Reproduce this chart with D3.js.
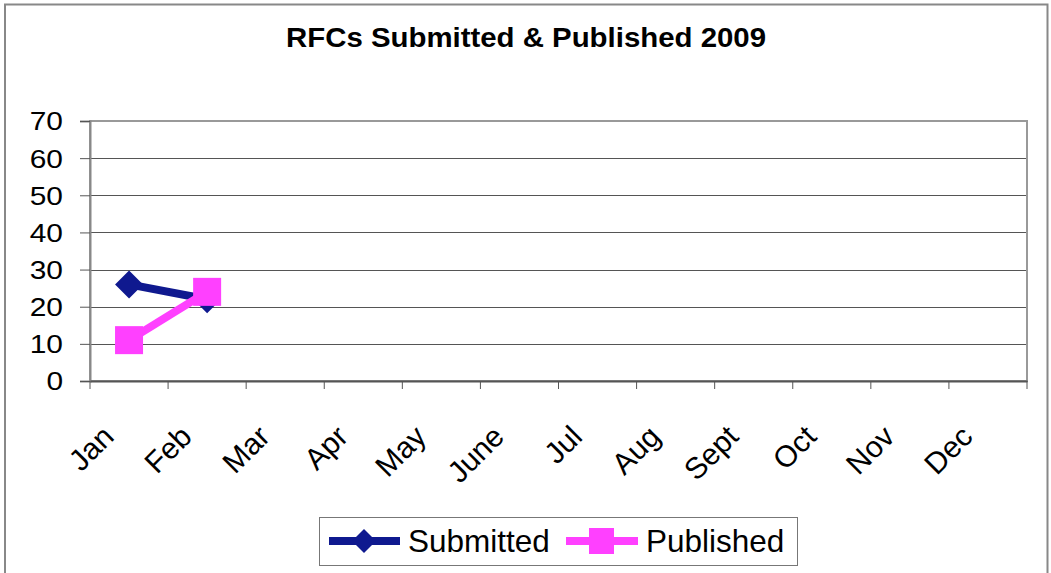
<!DOCTYPE html>
<html>
<head>
<meta charset="utf-8">
<script src="https://cdn.jsdelivr.net/npm/d3@7"></script>
<style>
  body { margin: 0; background: #fff; }
  svg { display: block; font-family: "Liberation Sans", Arial, sans-serif; }
  .grid line { stroke: #555; stroke-width: 1; }
</style>
</head>
<body>
<svg id="chart" width="1051" height="573"></svg>
<script>
const months = ["Jan", "Feb", "Mar", "Apr", "May", "June", "Jul", "Aug", "Sept", "Oct", "Nov", "Dec"];
const submitted = [26, 22];
const published = [11, 24];
const yTicks = [0, 10, 20, 30, 40, 50, 60, 70];

const width = 1051, height = 573;
const margin = { top: 121, right: 24, bottom: 192, left: 90 };
const svg = d3.select("#chart");

// outer frame (bottom runs off the page)
svg.append("path")
  .attr("d", `M 5 ${height + 2} L 5 4.5 L 1047.5 4.5 L 1047.5 ${height + 2}`)
  .attr("fill", "none").attr("stroke", "#888").attr("stroke-width", 2);

svg.append("text")
  .attr("x", 526).attr("y", 47)
  .attr("text-anchor", "middle")
  .attr("font-weight", "bold").attr("font-size", 28)
  .attr("textLength", 480).attr("lengthAdjust", "spacingAndGlyphs")
  .text("RFCs Submitted & Published 2009");

const x = d3.scaleBand().domain(months).range([margin.left, width - margin.right]);
const y = d3.scaleLinear().domain([0, 70]).range([height - margin.bottom, margin.top]);

// gridlines
svg.append("g").attr("class", "grid")
  .selectAll("line").data(yTicks.filter(d => d > 0 && d < 70)).join("line")
  .attr("x1", margin.left).attr("x2", width - margin.right)
  .attr("y1", d => Math.round(y(d)) + 0.5).attr("y2", d => Math.round(y(d)) + 0.5);

// plot border
svg.append("rect")
  .attr("x", margin.left).attr("y", margin.top)
  .attr("width", width - margin.right - margin.left)
  .attr("height", y(0) - margin.top)
  .attr("fill", "none").attr("stroke", "#999").attr("stroke-width", 2);

// y axis: ticks from d3, labels drawn a little wide like the original
const yAxis = svg.append("g").attr("transform", `translate(${margin.left},0)`)
  .call(d3.axisLeft(y).tickValues(yTicks).tickSize(10).tickFormat(""));
yAxis.select(".domain").attr("stroke", "#888").attr("stroke-width", 2);
yAxis.selectAll(".tick line").attr("stroke", "#555");
svg.append("g").selectAll("text").data(yTicks).join("text")
  .attr("transform", d => `translate(${margin.left - 27},${y(d)}) scale(1.15,1)`)
  .attr("text-anchor", "end")
  .attr("dy", "0.36em")
  .attr("font-size", 26)
  .text(d => d);

// x axis
const xAxis = svg.append("g").attr("transform", `translate(0,${y(0)})`)
  .call(d3.axisBottom(x).tickSize(0).tickFormat(""));
xAxis.select(".domain").attr("stroke", "#555").attr("stroke-width", 2);
xAxis.selectAll(".tick").remove();
const edges = months.map(m => x(m)).concat([x.range()[1]]);
xAxis.selectAll("line.edge").data(edges).join("line")
  .attr("class", "edge")
  .attr("x1", d => d).attr("x2", d => d)
  .attr("y1", 0).attr("y2", 8)
  .attr("stroke", "#555");

svg.append("g").selectAll("text").data(months).join("text")
  .attr("transform", d => `translate(${x(d) + x.bandwidth() / 2 - 21},${y(0) + 50}) rotate(-45)`)
  .attr("text-anchor", "end")
  .attr("dy", "0.35em")
  .attr("font-size", 30)
  .text(d => d);

const cx = i => x(months[i]) + x.bandwidth() / 2;
const line = d3.line().x((d, i) => cx(i)).y(d => y(d));

// Submitted
svg.append("path").datum(submitted)
  .attr("d", line).attr("fill", "none")
  .attr("stroke", "#0f198f").attr("stroke-width", 8);
svg.append("g").selectAll("path").data(submitted).join("path")
  .attr("transform", (d, i) => `translate(${cx(i)},${y(d)})`)
  .attr("d", "M0,-14 L14,0 L0,14 L-14,0 Z")
  .attr("fill", "#0f198f");

// Published
svg.append("path").datum(published)
  .attr("d", line).attr("fill", "none")
  .attr("stroke", "#ff40ff").attr("stroke-width", 8);
svg.append("g").selectAll("rect").data(published).join("rect")
  .attr("x", (d, i) => cx(i) - 14).attr("y", d => y(d) - 14)
  .attr("width", 28).attr("height", 28)
  .attr("fill", "#ff40ff");

// legend
const lg = svg.append("g");
lg.append("rect").attr("x", 319.5).attr("y", 517.5).attr("width", 478).attr("height", 48)
  .attr("fill", "#fff").attr("stroke", "#777").attr("stroke-width", 1);
const ly = 541;
lg.append("line").attr("x1", 329).attr("x2", 400).attr("y1", ly).attr("y2", ly)
  .attr("stroke", "#0f198f").attr("stroke-width", 8);
lg.append("path").attr("transform", `translate(364,${ly})`)
  .attr("d", "M0,-12 L12,0 L0,12 L-12,0 Z").attr("fill", "#0f198f");
lg.append("text").attr("x", 408).attr("y", ly).attr("dy", "0.35em")
  .attr("font-size", 31.5).text("Submitted");
lg.append("line").attr("x1", 566).attr("x2", 638).attr("y1", ly).attr("y2", ly)
  .attr("stroke", "#ff40ff").attr("stroke-width", 8);
lg.append("rect").attr("x", 589).attr("y", ly - 13).attr("width", 25).attr("height", 26)
  .attr("fill", "#ff40ff");
lg.append("text").attr("x", 646).attr("y", ly).attr("dy", "0.35em")
  .attr("font-size", 31.5).text("Published");
</script>
</body>
</html>
